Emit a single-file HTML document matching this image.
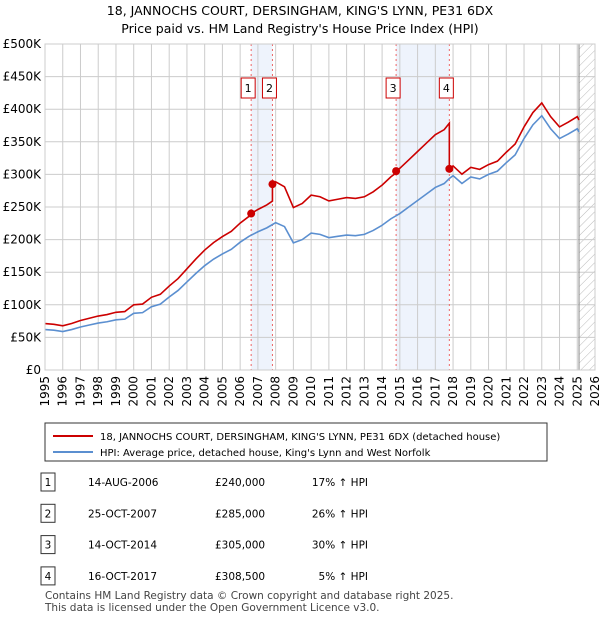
<!DOCTYPE html>
<html><head><meta charset="utf-8"><style>
body{margin:0;width:600px;height:620px;background:#fff;font-family:"DejaVu Sans",sans-serif;color:#222;overflow:hidden}
svg text{font-family:"DejaVu Sans",sans-serif}
</style></head><body>
<svg width="600" height="620">
<defs><pattern id="hatch" width="6" height="6" patternUnits="userSpaceOnUse" patternTransform="rotate(45)"><line x1="0" y1="0" x2="0" y2="6" stroke="#bbb" stroke-width="1"/></pattern></defs>
<text x="300" y="15" text-anchor="middle" font-size="12.5">18, JANNOCHS COURT, DERSINGHAM, KING'S LYNN, PE31 6DX</text>
<text x="300" y="33" text-anchor="middle" font-size="12.5">Price paid vs. HM Land Registry's House Price Index (HPI)</text>
<g id="plot"></g>
<g>
<rect x="45" y="423" width="502" height="38" fill="#fff" stroke="#333"/>
<line x1="53" y1="436" x2="93" y2="436" stroke="#cc0000" stroke-width="2"/>
<text x="100" y="440" font-size="10">18, JANNOCHS COURT, DERSINGHAM, KING'S LYNN, PE31 6DX (detached house)</text>
<line x1="53" y1="452" x2="93" y2="452" stroke="#5b8fd0" stroke-width="2"/>
<text x="100" y="456" font-size="10">HPI: Average price, detached house, King's Lynn and West Norfolk</text>
</g>
<g id="table" font-size="10.5"></g>
<text x="45" y="599" font-size="10.5" fill="#444">Contains HM Land Registry data © Crown copyright and database right 2025.</text>
<text x="45" y="611" font-size="10.5" fill="#444">This data is licensed under the Open Government Licence v3.0.</text>
</svg>
<script>
const hpiYears=[1995,1995.5,1996,1996.5,1997,1997.5,1998,1998.5,1999,1999.5,2000,2000.5,2001,2001.5,2002,2002.5,2003,2003.5,2004,2004.5,2005,2005.5,2006,2006.5,2007,2007.5,2008,2008.5,2009,2009.5,2010,2010.5,2011,2011.5,2012,2012.5,2013,2013.5,2014,2014.5,2015,2015.5,2016,2016.5,2017,2017.5,2017.8,2018,2018.5,2019,2019.5,2020,2020.5,2021,2021.5,2022,2022.5,2023,2023.5,2024,2024.5,2025,2025.1];
const hpiValues=[62,61,59,62,66,69,72,74,77,78,87,88,97,101,112,122,135,148,160,170,178,185,196,205,212,218,226,220,195,200,210,208,203,205,207,206,208,214,222,232,240,250,260,270,280,286,294,298,286,296,293,300,305,318,330,355,376,390,370,355,362,370,365];
const saleDates=[2006.62,2007.82,2014.79,2017.79];
const salePrices=[240000,285000,305000,308500];
const saleLabels=["14-AUG-2006","25-OCT-2007","14-OCT-2014","16-OCT-2017"];
const salePriceText=["£240,000","£285,000","£305,000","£308,500"];
const saleHpiText=["17% ↑ HPI","26% ↑ HPI","30% ↑ HPI","5% ↑ HPI"];
const yTicks=[0,50,100,150,200,250,300,350,400,450,500];
const yTickLabels=["£0","£50K","£100K","£150K","£200K","£250K","£300K","£350K","£400K","£450K","£500K"];
const xYears=[];for(let y=1995;y<=2026;y++)xYears.push(y);

const X0=45,X1=595,Y0=370,Y1=44;
const sx=y=>X0+(y-1995)*(X1-X0)/31;
const sy=v=>Y0-v*(Y0-Y1)/500;
const NS="http://www.w3.org/2000/svg";
const plot=document.getElementById('plot');
function mk(tag,attrs,parent){const e=document.createElementNS(NS,tag);for(const k in attrs)e.setAttribute(k,attrs[k]);(parent||plot).appendChild(e);return e;}
function hpiAt(t){for(let i=0;i<hpiYears.length-1;i++){if(t<=hpiYears[i+1]){const f=(t-hpiYears[i])/(hpiYears[i+1]-hpiYears[i]);return hpiValues[i]+f*(hpiValues[i+1]-hpiValues[i]);}}return hpiValues[hpiValues.length-1];}

for(let k=0;k<4;k+=2){const b=mk('rect',{x:sx(saleDates[k]),y:Y1,width:sx(saleDates[k+1])-sx(saleDates[k]),height:Y0-Y1,fill:'#eef3fc'});

}
const h=mk('rect',{x:sx(2025.1),y:Y1,width:X1-sx(2025.1),height:Y0-Y1,fill:'url(#hatch)'});


xYears.forEach(y=>{const l=mk('line',{x1:sx(y),x2:sx(y),y1:Y1,y2:Y0,stroke:'#ccc'});


const t=mk('text',{x:0,y:0,'font-size':12,'text-anchor':'end',transform:`translate(${sx(y)+4},${Y0+6}) rotate(-90)`});t.textContent=y;

});
yTicks.forEach((v,i)=>{const l=mk('line',{x1:X0,x2:X1,y1:sy(v),y2:sy(v),stroke:'#ccc'});


const t=mk('text',{x:X0-4,y:sy(v)+4,'font-size':12,'text-anchor':'end'});t.textContent=yTickLabels[i];

});
const ln=mk('line',{x1:sx(2025.1),x2:sx(2025.1),y1:Y1,y2:Y0,stroke:'#888'});


saleDates.forEach((d,i)=>{const l=mk('line',{x1:sx(d),x2:sx(d),y1:Y1,y2:Y0,stroke:'#e66','stroke-dasharray':'2,3'});


const cx=sx(d)-3;
const r=mk('rect',{x:cx-7,y:78,width:14,height:20,fill:'#fff',stroke:'#cc0000'});


const t=mk('text',{x:cx,y:92,'font-size':11,'text-anchor':'middle'});t.textContent=i+1;

});
const hp=mk('polyline',{points:hpiYears.map((y,i)=>sx(y)+','+sy(hpiValues[i])).join(' '),fill:'none',stroke:'#5b8fd0','stroke-width':1.6});


const ratios=saleDates.map((d,i)=>salePrices[i]/1000/hpiAt(d));
const firstRatio=ratios[0]*0.99;
let pts=[];
hpiYears.forEach((y,i)=>{let r=firstRatio;for(let k=0;k<saleDates.length;k++)if(y>=saleDates[k])r=ratios[k];
if(i>0&&saleDates.some(d=>d>hpiYears[i-1]&&d<=y)){const d=saleDates.find(d=>d>hpiYears[i-1]&&d<=y);const k=saleDates.indexOf(d);const prev=k>0?ratios[k-1]:firstRatio;pts.push(sx(d)+','+sy(hpiAt(d)*prev));pts.push(sx(d)+','+sy(salePrices[k]/1000));}
pts.push(sx(y)+','+sy(hpiValues[i]*r));});
const pl=mk('polyline',{points:pts.join(' '),fill:'none',stroke:'#cc0000','stroke-width':1.6});


saleDates.forEach((d,i)=>{const c=mk('circle',{cx:sx(d),cy:sy(salePrices[i]/1000),r:4,fill:'#cc0000'});

});
mk('rect',{x:X0,y:Y1,width:X1-X0,height:Y0-Y1,fill:'none',stroke:'#ccc'});
const tb=document.getElementById('table');
saleDates.forEach((d,i)=>{const y=482+i*31.3;
const r=mk('rect',{x:41,y:y-9,width:14,height:18,fill:'#fff',stroke:'#333'},tb);


const vals=[[48,String(i+1),'middle'],[88,saleLabels[i],'start'],[215,salePriceText[i],'start'],[368,saleHpiText[i],'end']];
vals.forEach(v=>{const t=mk('text',{x:v[0],y:y+4,'text-anchor':v[2]},tb);t.textContent=v[1];

});});
</script>
</body></html>
